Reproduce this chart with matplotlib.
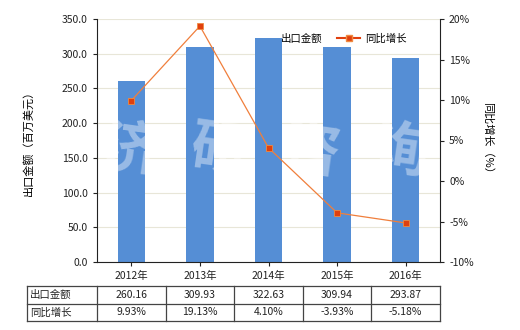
import matplotlib
matplotlib.use("Agg")
import matplotlib.pyplot as plt
from matplotlib.lines import Line2D
import numpy as np

plt.rcParams['font.family'] = ['Noto Sans CJK SC', 'DejaVu Sans']

years = ["2012年", "2013年", "2014年", "2015年", "2016年"]
export_values = [260.16, 309.93, 322.63, 309.94, 293.87]
growth_pct = [9.93, 19.13, 4.10, -3.93, -5.18]
export_labels = ["260.16", "309.93", "322.63", "309.94", "293.87"]
growth_labels = ["9.93%", "19.13%", "4.10%", "-3.93%", "-5.18%"]
row_names = ["出口金额", "同比增长"]
watermark_chars = ["济", "研", "咨", "询"]

W, H = 520, 330
fig = plt.figure(figsize=(W/100, H/100), dpi=100)
L, R, T, B = 97, 440, 19, 262
ax = fig.add_axes([L/W, 1-B/H, (R-L)/W, (B-T)/H])
ax2 = ax.twinx()

x = np.arange(len(years))
bar_color = "#558ED5"
ax.bar(x, export_values, width=0.4, color=bar_color, zorder=2, label="出口金额")
ax.set_xlim(-0.5, len(years)-0.5)
ax.set_ylim(0, 350)
ax.set_yticks(np.arange(0, 351, 50))
ax.set_yticklabels([f"{v:.1f}" for v in np.arange(0, 351, 50)])
ax.grid(axis='y', color="#E8E6D8", linewidth=0.8, zorder=0)
ax.set_axisbelow(True)
ax.set_xticks(x)
ax.set_xticklabels(years)

ax2.plot(x, growth_pct, color="#F07F3C", linewidth=0.9, marker='s', markersize=5,
         markerfacecolor="#E0400E", markeredgecolor="#F08A40", markeredgewidth=0.6,
         zorder=3, label="同比增长")
ax2.set_ylim(-10, 20)
ax2.set_yticks(np.arange(-10, 21, 5))
ax2.set_yticklabels([f"{v}%" for v in np.arange(-10, 21, 5)])

for a in (ax, ax2):
    a.spines["top"].set_visible(False)
    a.tick_params(labelsize=7.5, length=3, width=0.8, colors="#222222")
ax.spines['right'].set_visible(False)
ax2.spines['left'].set_visible(False)
ax2.spines['right'].set_color("#222222")
ax.spines['left'].set_color("#222222")
ax.spines['bottom'].set_color("#222222")
ax2.spines['bottom'].set_visible(False)

ax.set_ylabel("出口金额（百万美元）", fontsize=8, labelpad=20)
ax2.set_ylabel("同比增长（%）", fontsize=8, rotation=-90, labelpad=14)

# watermark
for i, ch in enumerate(watermark_chars):
    ax.text((130 + i*90 - L)/(R-L), 1-(152-T)/(B-T), ch, transform=ax.transAxes,
            fontsize=42, color="white", alpha=0.4, ha='center', va='center',
            zorder=4, fontweight='bold', rotation=-8)

# legend (bar handle hidden behind the 2014 bar in the reference)
handles = [plt.Rectangle((0, 0), 1, 1, color=bar_color, alpha=0.0),
           Line2D([0], [0], color="#E0400E", linewidth=1.5, marker='s', markersize=4,
                  markerfacecolor="#E0400E", markeredgecolor="#F08A40")]
leg = ax2.legend(handles, ["出口金额", "同比增长"], loc='upper left',
                 bbox_to_anchor=((249-L)/(R-L), 1-(29-T)/(B-T)), ncol=2, frameon=False,
                 fontsize=7.5, handlelength=2.2, columnspacing=1.4, handletextpad=0.5,
                 borderaxespad=0)

# table
tl, tt, rh = 27, 286, 17.5
col_edges = [tl] + [L + k*(R-L)/len(years) for k in range(len(years)+1)]
line_kw = dict(color="#444444", linewidth=0.9)
for i in range(3):
    y = 1-(tt + i*rh)/H
    fig.add_artist(Line2D([col_edges[0]/W, col_edges[-1]/W], [y, y], **line_kw))
for cx in col_edges:
    fig.add_artist(Line2D([cx/W, cx/W], [1-tt/H, 1-(tt+2*rh)/H], **line_kw))
rows = [export_labels, growth_labels]
for r, (name, vals) in enumerate(zip(row_names, rows)):
    yc = 1-(tt + (r+0.5)*rh)/H
    fig.text((tl+3)/W, yc, name, fontsize=7.5, ha='left', va='center', color="#222222")
    for k, v in enumerate(vals):
        xc = (col_edges[k+1] + col_edges[k+2]) / 2 / W
        fig.text(xc, yc, v, fontsize=7.5, ha='center', va='center', color="#222222")

fig.savefig("out.png", dpi=100)
